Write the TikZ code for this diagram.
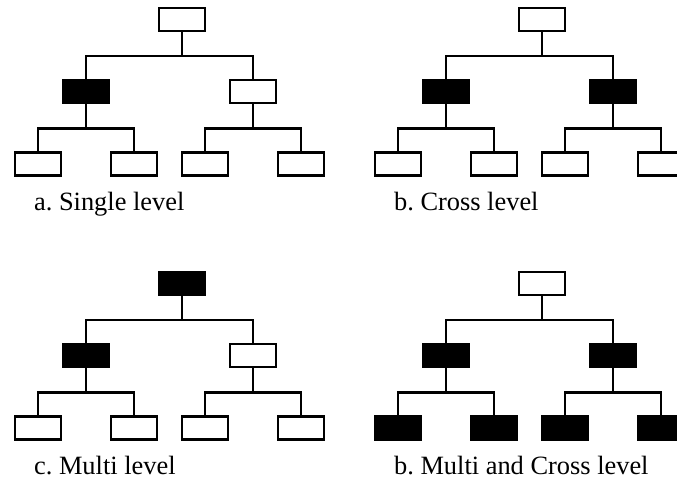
\documentclass[tikz,border=0pt]{standalone}
\usepackage{fontspec}
\setmainfont{Liberation Serif}
\begin{document}
\begin{tikzpicture}[x=1pt,y=-1pt,line width=2.2pt,
  box/.style={draw,rectangle,minimum width=46pt,minimum height=23pt,inner sep=0pt},
  caption/.style={anchor=base west,inner sep=0pt,font=\fontsize{26.4}{30}\selectfont\frenchspacing}]
  \useasboundingbox (0,0) rectangle (677,480);
  \clip (0,0) rectangle (677,480);
  \foreach \t/\dx/\dy/\ftop/\fleft/\fright/\fleaf/\txt in
   {a/0/0/white/black/white/white/{a. Single level},
    b/360/0/white/black/black/white/{b. Cross level},
    c/0/264/black/black/white/white/{c. Multi level},
    d/360/264/white/black/black/black/{b. Multi and Cross level}}
  {
  \begin{scope}[shift={(\dx,\dy)}]
   \node[box,fill=\ftop] (\t-root) at (182,19.7) {};
   \node[box,fill=\fleft] (\t-l) at (86,91.8) {};
   \node[box,fill=\fright] (\t-r) at (253,91.8) {};
   \node[box,fill=\fleaf] (\t-ll) at (38,164) {};
   \node[box,fill=\fleaf] (\t-lr) at (134,164) {};
   \node[box,fill=\fleaf] (\t-rl) at (205,164) {};
   \node[box,fill=\fleaf] (\t-rr) at (301,164) {};
   \draw (\t-root.south) -- ++(0,24) -| (\t-l.north);
   \draw (\t-root.south) -- ++(0,24) -| (\t-r.north);
   \draw (\t-l.south) -- ++(0,24) -| (\t-ll.north);
   \draw (\t-l.south) -- ++(0,24) -| (\t-lr.north);
   \draw (\t-r.south) -- ++(0,24) -| (\t-rl.north);
   \draw (\t-r.south) -- ++(0,24) -| (\t-rr.north);
   \node[caption] (\t-label) at (33,210) {\txt};
  \end{scope}
  }
\end{tikzpicture}
\end{document}
